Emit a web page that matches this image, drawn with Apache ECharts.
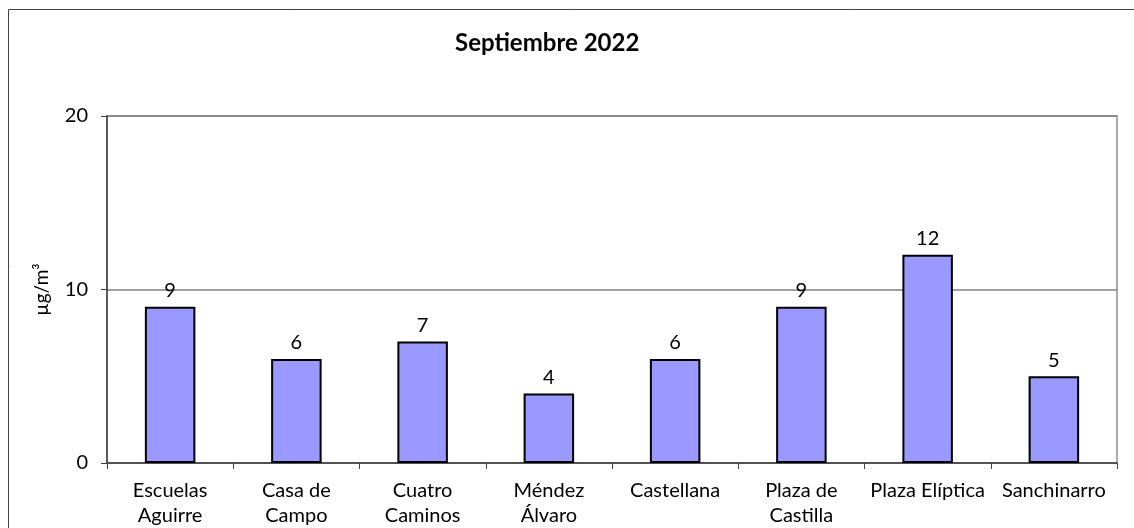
<!DOCTYPE html>
<html>
<head>
<meta charset="utf-8">
<script src="https://cdn.jsdelivr.net/npm/echarts@6/dist/echarts.min.js"></script>
<style>
  html, body { margin: 0; padding: 0; background: #fff; }
  #chart { width: 1134px; height: 528px; }
</style>
</head>
<body>
<div id="chart"></div>
<script>
// estaciones y valores medios del mes
const stations = [
  'Escuelas\nAguirre', 'Casa de\nCampo', 'Cuatro\nCaminos', 'Méndez\nÁlvaro',
  'Castellana', 'Plaza de\nCastilla', 'Plaza Elíptica', 'Sanchinarro'
]
const values = [9, 6, 7, 4, 6, 9, 12, 5]
const yTicks = [0, 10, 20]

const font = 'Lato, "Open Sans", sans-serif'
const chart = echarts.init(document.getElementById('chart'))

const option = {
  animation: false,
  title: {
    text: 'Septiembre 2022',
    left: 455,
    top: 31,
    padding: 0,
    textStyle: { fontFamily: font, fontSize: 24, fontWeight: 'bold', color: '#000' }
  },
  graphic: [{
    type: 'rect',
    shape: { x: 8.5, y: 9.5, width: 1200, height: 600 },
    style: { fill: 'none', stroke: '#404040', lineWidth: 1 },
    silent: true
  }],
  grid: {
    left: 107,
    right: 17,
    top: 116,
    bottom: 65,
    show: true,
    borderColor: '#909090',
    borderWidth: 1.5
  },
  xAxis: {
    type: 'category',
    data: stations,
    boundaryGap: true,
    axisLine: { lineStyle: { color: '#404040', width: 1.5 } },
    axisTick: { show: true, length: 6, lineStyle: { color: '#404040', width: 1 } },
    axisLabel: {
      interval: 0,
      margin: 15,
      fontFamily: font,
      fontSize: 20,
      lineHeight: 25,
      color: '#000'
    }
  },
  yAxis: {
    type: 'value',
    min: yTicks[0],
    max: yTicks[yTicks.length - 1],
    interval: 10,
    name: 'µg/m³',
    nameLocation: 'middle',
    nameRotate: 90,
    nameGap: 56,
    nameTextStyle: { fontFamily: font, fontSize: 19, color: '#000' },
    axisLine: { show: true, lineStyle: { color: '#404040', width: 1.5 } },
    axisTick: { show: true, length: 6, lineStyle: { color: '#404040', width: 1 } },
    axisLabel: { margin: 19, fontFamily: font, fontSize: 20, color: '#000' },
    splitLine: { show: true, lineStyle: { color: '#808080', width: 1.5 } }
  },
  series: [{
    type: 'bar',
    data: values,
    barWidth: '40%',
    itemStyle: { color: '#9999ff', borderColor: '#000', borderWidth: 2 },
    label: {
      show: true,
      position: 'top',
      distance: 6,
      fontFamily: font,
      fontSize: 20,
      color: '#000'
    }
  }]
}
chart.setOption(option)
</script>
</body>
</html>
